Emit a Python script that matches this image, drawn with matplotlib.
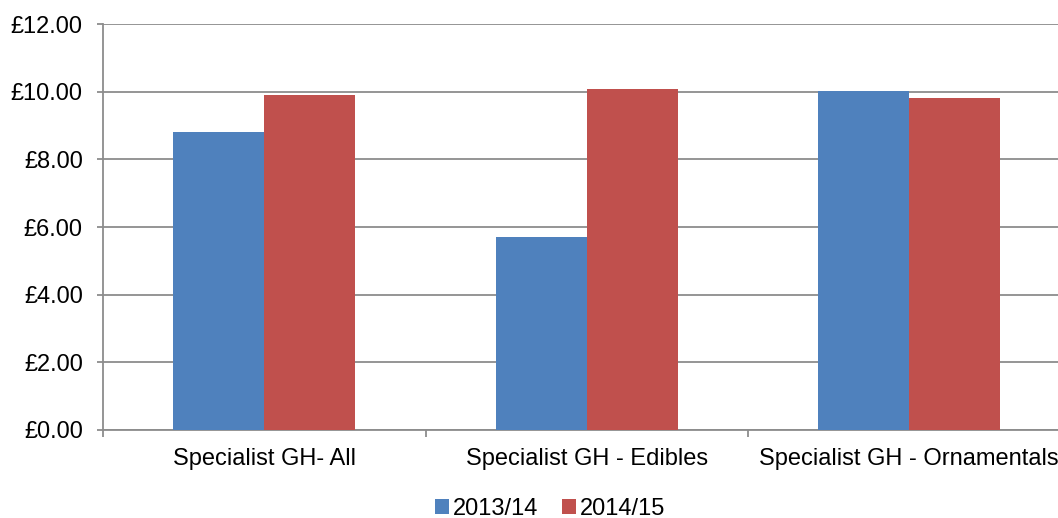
import numpy as np
import matplotlib.pyplot as plt

plt.rcParams['font.family'] = ['Liberation Sans', 'DejaVu Sans']

categories = ['Specialist GH- All', 'Specialist GH - Edibles', 'Specialist GH - Ornamentals']
series = ['2013/14', '2014/15']
values_1314 = [8.81, 5.70, 10.02]
values_1415 = [9.90, 10.08, 9.81]
yticks = [0, 2, 4, 6, 8, 10, 12]

colors = ['#4F81BD', '#C0504D']
grid_col = '#8C8C8C'

fig = plt.figure(figsize=(10.58, 5.18), dpi=100)
# axes runs past the right edge, like the cropped original
ax = fig.add_axes([103 / 1058, 1 - 430 / 518, 967.5 / 1058, 406 / 518])

x = np.arange(len(categories))
w = 0.282
ax.bar(x - w / 2, values_1314, w, color=colors[0], label=series[0], zorder=3)
ax.bar(x + w / 2, values_1415, w, color=colors[1], label=series[1], zorder=3)

ax.set_xlim(-0.5, len(categories) - 0.5)
ax.set_ylim(0, 12)
ax.set_yticks(yticks)
ax.set_yticklabels(['£{:.2f}'.format(v) for v in yticks])
ax.set_xticks(x)
ax.set_xticklabels(categories)
ax.set_xticks(np.arange(len(categories) + 1) - 0.5, minor=True)

ax.yaxis.grid(True, color=grid_col, linewidth=1.3, zorder=0)
ax.tick_params(axis='y', length=4.5, width=1.3, color=grid_col, labelsize=17, pad=10)
ax.tick_params(axis='x', which='major', length=0, labelsize=17, pad=13)
ax.tick_params(axis='x', which='minor', length=5, width=1.3, color=grid_col)

for s in ['top', 'right']:
    ax.spines[s].set_visible(False)
for s in ['left', 'bottom']:
    ax.spines[s].set_color(grid_col)
    ax.spines[s].set_linewidth(1.3)

fig.legend(loc='center', bbox_to_anchor=(550 / 1058, 1 - 509 / 518), ncol=2,
           frameon=False, fontsize=17, handlelength=0.6, handleheight=0.6,
           handletextpad=0.15, columnspacing=1.0, borderpad=0)

fig.savefig('out.png', dpi=100)
